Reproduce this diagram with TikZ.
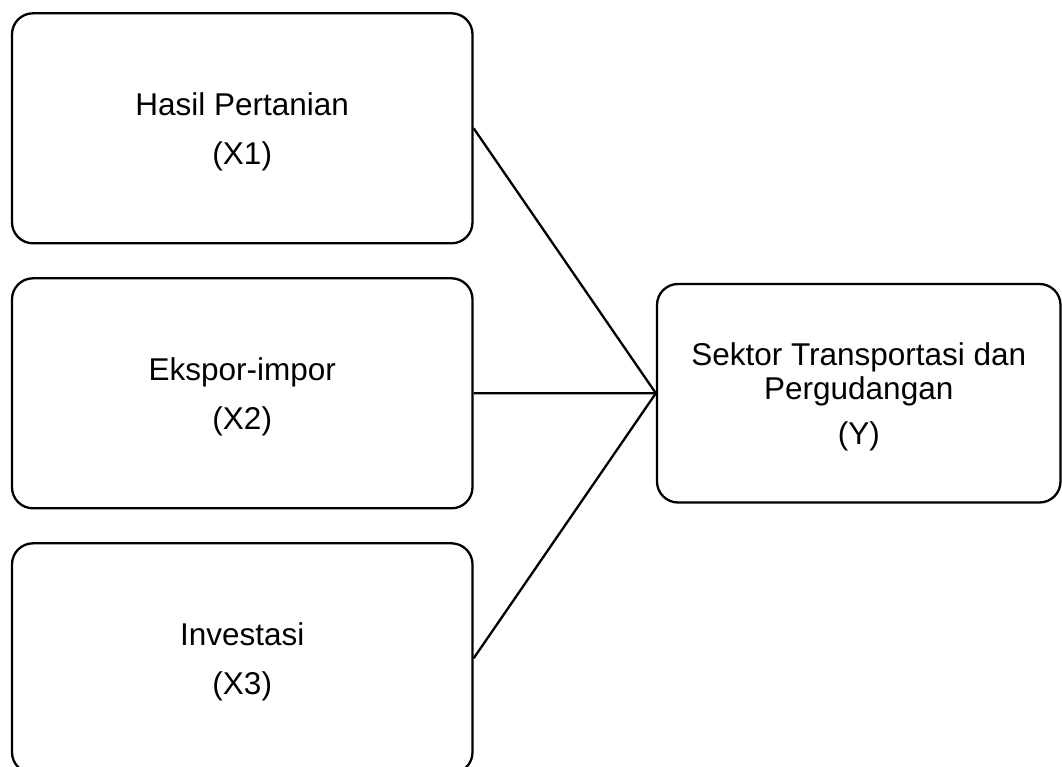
\documentclass[tikz,border=0pt]{standalone}
\usepackage{fontspec}
\setmainfont{Liberation Sans}

\begin{document}
\begin{tikzpicture}[x=1pt,y=-1pt,
   varbox/.style={draw,line width=2.3pt,rounded corners=21pt,align=center,
     minimum width=460.5pt,minimum height=230pt,inner sep=0pt,text depth=0pt,
     font=\fontsize{31.5}{34}\selectfont},
   link/.style={line width=2.3pt}]
   \useasboundingbox (0,0) rectangle (1062,767);
   \node[varbox] (x1) at (242.25,128.3) {Hasil Pertanian\\[15pt](X1)};
   \node[varbox] (x2) at (242.25,393.3) {Ekspor-impor\\[15pt](X2)};
   \node[varbox] (x3) at (242.25,658.3) {Investasi\\[15pt](X3)};
   \node[varbox,minimum width=403.5pt,minimum height=218.5pt] (y) at (858.75,393.25)
     {Sektor Transportasi dan\\Pergudangan\\[11pt](Y)};
   \draw[link] (x1.east) -- (y.west);
   \draw[link] (x2.east) -- (y.west);
   \draw[link] (x3.east) -- (y.west);
\end{tikzpicture}
\end{document}
